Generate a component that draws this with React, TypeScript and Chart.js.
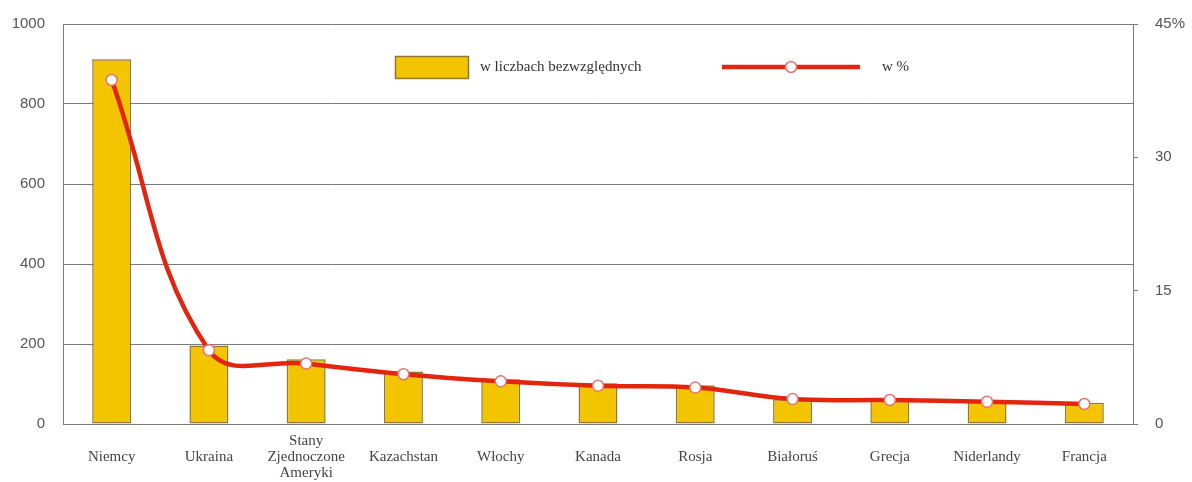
import React, { useEffect, useRef } from "react";
import { Chart, registerables } from "chart.js";

Chart.register(...registerables);

const categories: (string | string[])[] = [
  "Niemcy",
  "Ukraina",
  ["Stany", "Zjednoczone", "Ameryki"],
  "Kazachstan",
  "Włochy",
  "Kanada",
  "Rosja",
  "Białoruś",
  "Grecja",
  "Niderlandy",
  "Francja",
];

const absoluteValues = [912, 196, 162, 131, 112, 102, 97, 62, 58, 58, 53];
const percentValues = [38.7, 8.3, 6.8, 5.6, 4.8, 4.3, 4.1, 2.8, 2.7, 2.5, 2.25];

const leftTicks = [0, 200, 400, 600, 800, 1000];
const rightTicks = [0, 15, 30, 45];

const barLabel = "w liczbach bezwzględnych";
const lineLabel = "w %";

const GOLD = "#F2C500";
const GOLD_BORDER = "#8E7834";
const RED = "#E3240E";
const POINT_BORDER = "#E57373";
const GRID = "#7a7a7a";
const SERIF = "'Liberation Serif', 'Times New Roman', serif";
const SANS = "'Liberation Sans', Arial, sans-serif";

const legendPlugin = {
  id: "customLegend",
  afterDraw(chart: any) {
    const ctx = chart.ctx;
    const y = 67;
    ctx.save();
    ctx.fillStyle = GOLD;
    ctx.fillRect(395, 56, 73, 22);
    ctx.strokeStyle = GOLD_BORDER;
    ctx.lineWidth = 1.5;
    ctx.strokeRect(395.5, 56.5, 73, 22);
    ctx.fillStyle = "#333";
    ctx.font = `15px ${SERIF}`;
    ctx.textBaseline = "middle";
    ctx.textAlign = "left";
    ctx.fillText(barLabel, 480, y);
    ctx.strokeStyle = RED;
    ctx.lineWidth = 4.5;
    ctx.beginPath();
    ctx.moveTo(722, y);
    ctx.lineTo(860, y);
    ctx.stroke();
    ctx.beginPath();
    ctx.arc(791, y, 5.5, 0, Math.PI * 2);
    ctx.fillStyle = "#fff";
    ctx.fill();
    ctx.strokeStyle = POINT_BORDER;
    ctx.lineWidth = 1.5;
    ctx.stroke();
    ctx.fillStyle = "#333";
    ctx.fillText(lineLabel, 882, y);
    ctx.restore();
  },
};

export default function App() {
  const ref = useRef<HTMLCanvasElement | null>(null);

  useEffect(() => {
    if (!ref.current) return;
    const chart = new Chart(ref.current, {
      type: "bar",
      data: {
        labels: categories as any,
        datasets: [
          {
            type: "line",
            label: lineLabel,
            data: percentValues,
            yAxisID: "y1",
            borderColor: RED,
            borderWidth: 4.5,
            tension: 0.4,
            pointRadius: 5.5,
            pointBackgroundColor: "#fff",
            pointBorderColor: POINT_BORDER,
            pointBorderWidth: 1.5,
            order: 0,
          } as any,
          {
            type: "bar",
            label: barLabel,
            data: absoluteValues,
            yAxisID: "y",
            backgroundColor: GOLD,
            borderColor: GOLD_BORDER,
            borderWidth: 1.5,
            borderSkipped: false,
            barPercentage: 0.4,
            categoryPercentage: 1,
            order: 1,
          },
        ],
      },
      options: {
        responsive: false,
        animation: false,
        layout: { padding: { top: 24, left: 0, right: 0, bottom: 0 } },
        plugins: {
          legend: { display: false },
          tooltip: { enabled: false },
        },
        scales: {
          x: {
            grid: { display: false, drawTicks: false },
            border: { display: true, color: GRID },
            ticks: {
              color: "#444",
              font: { family: SERIF, size: 15, lineHeight: 1.07 },
              padding: 17,
              maxRotation: 0,
              autoSkip: false,
              crossAlign: "center",
            },
            afterFit(scale: any) {
              scale.height = 58;
              scale.paddingLeft = 0;
              scale.paddingRight = 0;
            },
          },
          y: {
            position: "left",
            min: 0,
            max: 1000,
            afterBuildTicks(scale: any) {
              scale.ticks = leftTicks.map((v) => ({ value: v }));
            },
            grid: { color: GRID, lineWidth: 1, drawTicks: false },
            border: { display: true, color: GRID },
            ticks: {
              color: "#555",
              font: { family: SANS, size: 15 },
              padding: 18,
              callback: (v: any) => String(v),
            },
            afterFit(scale: any) {
              scale.width = 63;
              scale.paddingTop = 0;
              scale.paddingBottom = 0;
            },
          },
          y1: {
            position: "right",
            min: 0,
            max: 45,
            afterBuildTicks(scale: any) {
              scale.ticks = rightTicks.map((v) => ({ value: v }));
            },
            grid: { drawOnChartArea: false, drawTicks: true, tickLength: 5, color: GRID },
            border: { display: true, color: GRID },
            ticks: {
              color: "#555",
              font: { family: SANS, size: 15 },
              padding: 17,
              callback: (v: any) => (v === 45 ? "45%" : String(v)),
            },
            afterFit(scale: any) {
              scale.width = 59;
              scale.paddingTop = 0;
              scale.paddingBottom = 0;
            },
          },
        },
      },
      plugins: [legendPlugin],
    });
    return () => chart.destroy();
  }, []);

  return (
    <div style={{ position: "absolute", left: 0, top: 0, width: 1192, height: 482, background: "#fff" }}>
      <canvas ref={ref} width={1192} height={482} style={{ display: "block" }} />
    </div>
  );
}
